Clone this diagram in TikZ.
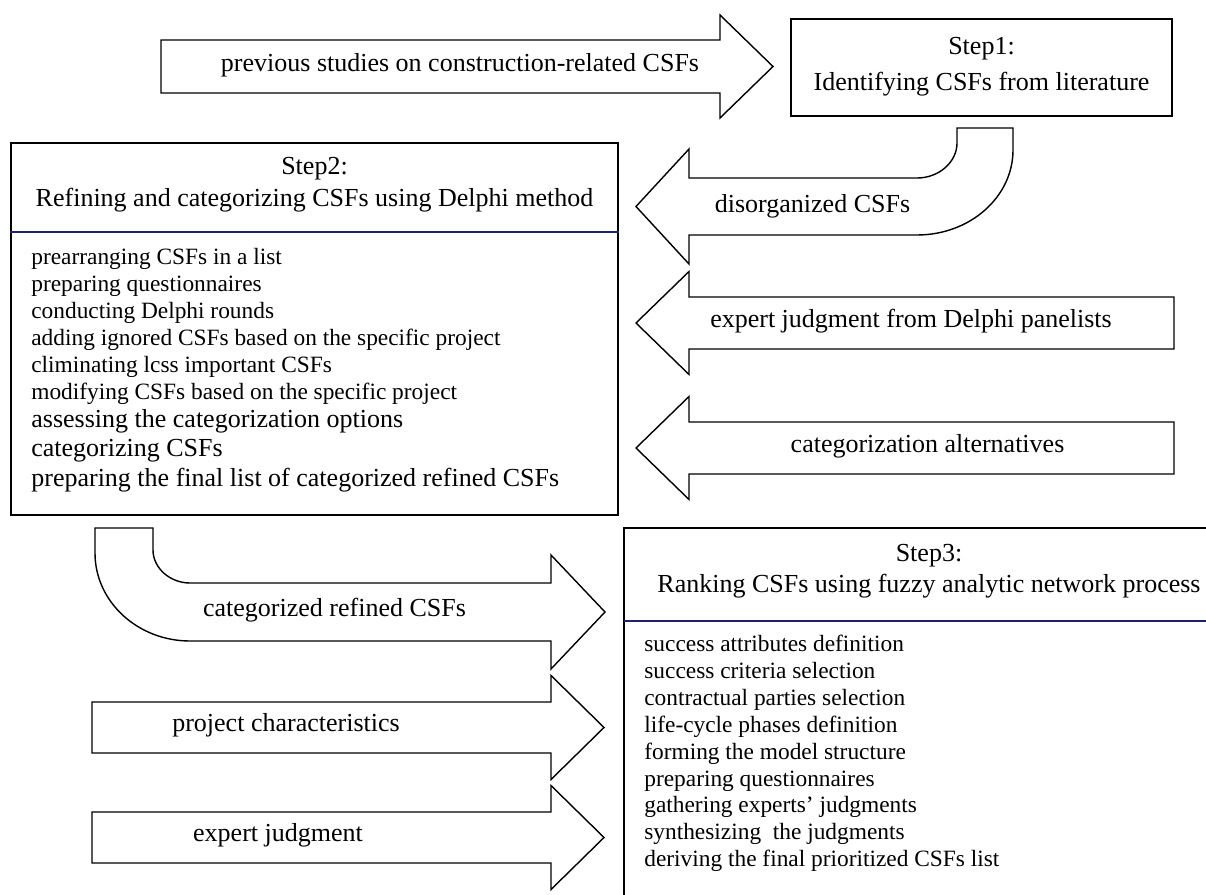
\documentclass[tikz,border=0pt]{standalone}
\usepackage{fontspec}
\setmainfont{Liberation Serif}
\usetikzlibrary{positioning}

\definecolor{headline}{RGB}{30,35,105}

\begin{document}
\begin{tikzpicture}[x=0.02cm,y=-0.02cm,
        stepbox/.style = {draw, line width=0.9pt, inner sep=0pt},
        blockarrow/.style = {draw, line width=0.8pt, fill=white, line join=miter},
        headtext/.style = {font=\fontsize{14.8}{17}\selectfont, inner sep=0pt, anchor=mid},
        arrowtext/.style = {font=\fontsize{14.8}{17}\selectfont, inner sep=0pt, anchor=mid},
        itemtext/.style = {font=\fontsize{13.3}{15}\selectfont, inner sep=0pt, anchor=mid west},
        bigitemtext/.style = {font=\fontsize{14.8}{17}\selectfont, inner sep=0pt, anchor=mid west}]
        \useasboundingbox (0,0) rectangle (1206,895);

        % step boxes
        \node[stepbox, minimum width=7.62cm, minimum height=1.94cm] (step1) at (981.5,67.5) {};
        \node[headtext] (s1a) at (981.5,50) {Step1:};
        \node[headtext] (s1b) at (981.5,86) {Identifying CSFs from literature};

        \node[stepbox, minimum width=12.14cm, minimum height=7.44cm] (step2) at (314.5,329) {};
        \node[headtext] (s2a) at (314.5,170) {Step2:};
        \node[headtext] (s2b) at (314.5,202) {Refining and categorizing CSFs using Delphi method};
        \draw[headline, line width=1.1pt] (step2.west |- 0,232) -- (step2.east |- 0,232);

        \draw[line width=0.9pt] (1206,528) -- (624,528) -- (624,895);
        \node[headtext] (s3a) at (929,557) {Step3:};
        \node[headtext] (s3b) at (929,588) {Ranking CSFs using fuzzy analytic network process};
        \draw[headline, line width=1.1pt] (624,621) -- (1206,621);

        % lists
        \foreach \txt/\y [count=\i] in {prearranging CSFs in a list/260,
                preparing questionnaires/287,
                conducting Delphi rounds/314,
                adding ignored CSFs based on the specific project/341,
                climinating lcss important CSFs/368,
                modifying CSFs based on the specific project/395}
            \node[itemtext] (s2item\i) at (31,\y) {\txt};
        \foreach \txt/\y [count=\i] in {assessing the categorization options/423,
                categorizing CSFs/452,
                preparing the final list of categorized refined CSFs/482}
            \node[bigitemtext] (s2last\i) at (31,\y) {\txt};

        \foreach \txt/\y [count=\i] in {success attributes definition/647,
                success criteria selection/674,
                contractual parties selection/701,
                life-cycle phases definition/728,
                forming the model structure/755,
                preparing questionnaires/782,
                gathering experts’ judgments/808,
                synthesizing~ the judgments/835,
                deriving the final prioritized CSFs list/862}
            \node[itemtext] (s3item\i) at (644,\y) {\txt};

        % block arrows
        \draw[blockarrow] (161,40) -- (720,40) -- (720,15) -- (773,66.5) -- (720,118) -- (720,93) -- (161,93) -- cycle;
        \node[arrowtext] (lit) at (460,67) {previous studies on construction-related CSFs};

        \draw[blockarrow] (636,206.5) -- (689,149) -- (689,178) -- (917,178)
            .. controls (939,178) and (957,162) .. (957,143) -- (957,128) -- (1013,128) -- (1013,150)
            .. controls (1013,197) and (970,235) .. (917,235) -- (689,235) -- (689,264) -- cycle;
        \node[arrowtext] (disorg) at (812.5,208) {disorganized CSFs};

        \draw[blockarrow] (636,323) -- (689,271.5) -- (689,297) -- (1174,297) -- (1174,349) -- (689,349) -- (689,374.5) -- cycle;
        \node[arrowtext] (panel) at (911,323) {expert judgment from Delphi panelists};

        \draw[blockarrow] (636,448) -- (689,396.5) -- (689,422) -- (1174,422) -- (1174,474) -- (689,474) -- (689,499.5) -- cycle;
        \node[arrowtext] (alt) at (927.5,448) {categorization alternatives};

        \draw[blockarrow] (95,528) -- (153,528) -- (153,550)
            .. controls (153,568) and (170,583) .. (190,583) -- (551,583) -- (551,555) -- (605,612)
            -- (551,669) -- (551,641) -- (190,641)
            .. controls (138,641) and (95,602) .. (95,553) -- cycle;
        \node[arrowtext] (refined) at (334.5,612) {categorized refined CSFs};

        \draw[blockarrow] (92,702) -- (551,702) -- (551,675.5) -- (604,727.5) -- (551,779.5) -- (551,753) -- (92,753) -- cycle;
        \node[arrowtext] (proj) at (286,727.5) {project characteristics};

        \draw[blockarrow] (92,812) -- (551,812) -- (551,785.5) -- (604,837.5) -- (551,889.5) -- (551,863) -- (92,863) -- cycle;
        \node[arrowtext] (expert) at (278,837.5) {expert judgment};
\end{tikzpicture}
\end{document}
